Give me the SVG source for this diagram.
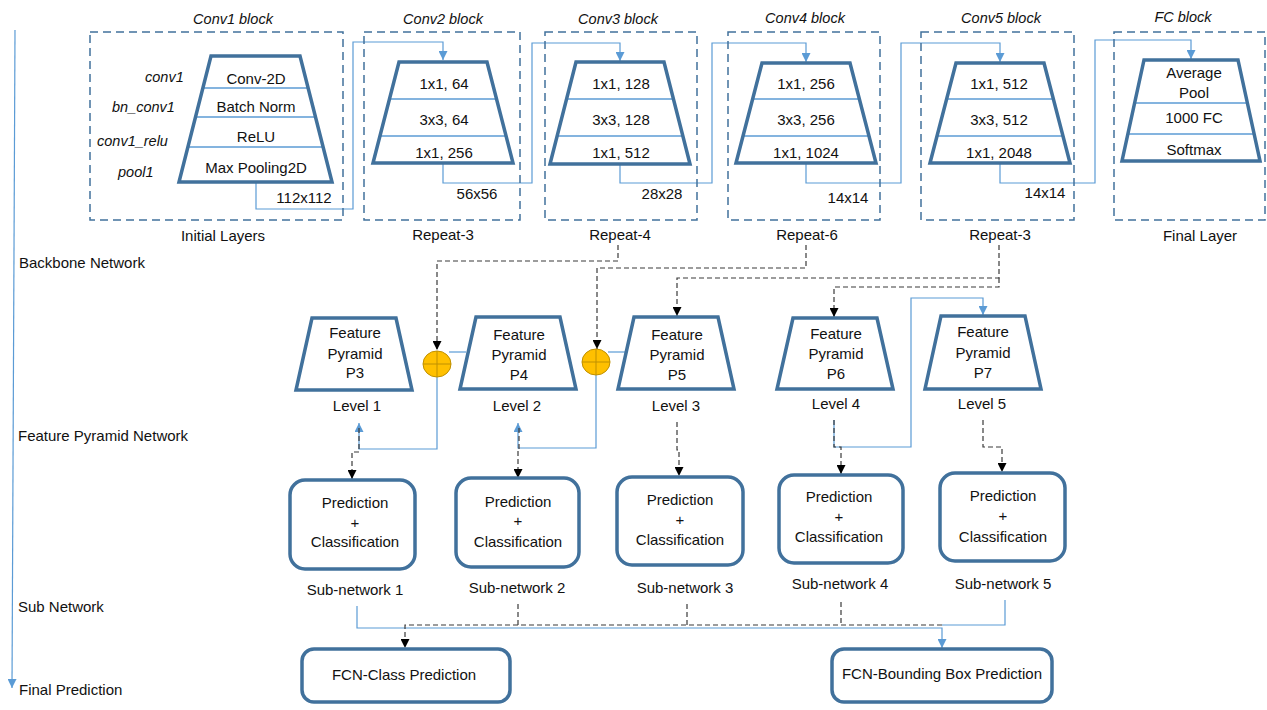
<svg xmlns="http://www.w3.org/2000/svg" width="1267" height="710" viewBox="0 0 1267 710">
<defs>
<marker id="ab" viewBox="0 0 10 10" refX="10" refY="5" markerWidth="9" markerHeight="9" markerUnits="userSpaceOnUse" orient="auto"><path d="M0,0 L10,5 L0,10 z" fill="#000"/></marker>
<marker id="al" viewBox="0 0 10 10" refX="10" refY="5" markerWidth="9" markerHeight="9" markerUnits="userSpaceOnUse" orient="auto"><path d="M0,0 L10,5 L0,10 z" fill="#5B9BD5"/></marker>
</defs>
<style>
text{font-family:"Liberation Sans",Arial,sans-serif;font-size:15px;fill:#111;text-anchor:middle}
.it{font-style:italic;font-size:14.5px}
.lt{text-anchor:start}
.blk{fill:none;stroke:#41719C;stroke-width:1.5;stroke-dasharray:8,5}
.trap{fill:none;stroke:#41719C;stroke-width:3.5;stroke-linejoin:miter}
.sep{stroke:#5B9BD5;stroke-width:1.5}
.box{fill:#fff;stroke:#41719C;stroke-width:3.5}
.lb{fill:none;stroke:#5B9BD5;stroke-width:1.2}
.dk{fill:none;stroke:#3a3a3a;stroke-width:1.2;stroke-dasharray:5,3}
.add{fill:#FFC000;stroke:#BF9000;stroke-width:1}
.cr{stroke:#BF9000;stroke-width:1}
</style>
<rect width="1267" height="710" fill="#fff"/>

<g id="axis">
<path class="lb" d="M15,30 L12,688" marker-end="url(#al)"/>
<text class="lt" x="19" y="268">Backbone Network</text>
<text class="lt" x="18" y="441">Feature Pyramid Network</text>
<text class="lt" x="18" y="612">Sub Network</text>
<text class="lt" x="19" y="695">Final Prediction</text>
</g>

<g id="connectors">
<path class="lb" d="M256,182 V209 H353 V42 H443 V60" marker-end="url(#al)"/>
<path class="lb" d="M443,163 V183 H532 V43 H620 V61" marker-end="url(#al)"/>
<path class="lb" d="M620,164 V183 H712 V43 H806 V62" marker-end="url(#al)"/>
<path class="lb" d="M806,163 V183 H901 V43 H1000 V62" marker-end="url(#al)"/>
<path class="lb" d="M1000,163 V183 H1095 V40 H1191 V59" marker-end="url(#al)"/>
<path class="dk" d="M618,245 V261 H437 V350" marker-end="url(#ab)"/>
<path class="dk" d="M806,245 V268 H597 V349" marker-end="url(#ab)"/>
<path class="dk" d="M999,245 V278 H677 V316" marker-end="url(#ab)"/>
<path class="dk" d="M999,278 V287 H834 V317" marker-end="url(#ab)"/>
<path class="lb" d="M449,352 H466"/>
<path class="lb" d="M608,352 H626"/>
<path class="lb" d="M437,377 V449 H359 V423" marker-end="url(#al)"/>
<path class="lb" d="M596,375 V448 H518 V423" marker-end="url(#al)"/>
<path class="lb" d="M834,420 V447 H911 V298 H983 V315" marker-end="url(#al)"/>
<path class="dk" d="M359,428 V452 H352 V479" marker-end="url(#ab)"/>
<path class="dk" d="M519,428 V450 H518 V478" marker-end="url(#ab)"/>
<path class="dk" d="M677,422 V450 H679 V476" marker-end="url(#ab)"/>
<path class="dk" d="M834,420 V447 H841 V474" marker-end="url(#ab)"/>
<path class="dk" d="M983,420 V447 H1002 V472" marker-end="url(#ab)"/>
<path class="lb" d="M357,606 V628 H942 V648" marker-end="url(#al)"/>
<path class="lb" d="M1005,600 V625 H942"/>
<path class="dk" d="M518,604 V625"/>
<path class="dk" d="M687,604 V625"/>
<path class="dk" d="M841,602 V625"/>
<path class="dk" d="M942,625 H405 V648" marker-end="url(#ab)"/>
</g>

<g id="conv1">
<text class="it" x="233" y="24">Conv1 block</text>
<rect class="blk" x="90" y="32" width="253" height="188"/>
<line class="sep" x1="202.9" y1="88" x2="308.1" y2="88"/>
<line class="sep" x1="195.5" y1="117" x2="315.5" y2="117"/>
<line class="sep" x1="187.9" y1="147" x2="323.1" y2="147"/>
<polygon class="trap" points="211,56 300,56 332,182 179,182"/>
<text x="256" y="84">Conv-2D</text>
<text x="256" y="112">Batch Norm</text>
<text x="256" y="142">ReLU</text>
<text x="256" y="173">Max Pooling2D</text>
<text class="it lt" x="145" y="82">conv1</text>
<text class="it lt" x="112" y="112">bn_conv1</text>
<text class="it lt" x="97" y="146">conv1_relu</text>
<text class="it lt" x="118" y="177">pool1</text>
<text x="304" y="203">112x112</text>
<text x="223" y="241">Initial Layers</text>
</g>

<g id="conv2">
<text class="it" x="443" y="24">Conv2 block</text>
<rect class="blk" x="364" y="32" width="156" height="188"/>
<line class="sep" x1="389.5" y1="99" x2="496.5" y2="99"/>
<line class="sep" x1="380" y1="136" x2="506" y2="136"/>
<polygon class="trap" points="399,62 487,62 513,163 373,163"/>
<text x="444" y="89">1x1, 64</text>
<text x="444" y="125">3x3, 64</text>
<text x="444" y="158">1x1, 256</text>
<text x="477" y="199">56x56</text>
<text x="443" y="240">Repeat-3</text>
</g>

<g id="conv3">
<text class="it" x="618" y="24">Conv3 block</text>
<rect class="blk" x="545" y="32" width="152" height="188"/>
<line class="sep" x1="566.5" y1="99" x2="673.5" y2="99"/>
<line class="sep" x1="557" y1="136" x2="683" y2="136"/>
<polygon class="trap" points="576,62 664,62 690,164 550,164"/>
<text x="621" y="89">1x1, 128</text>
<text x="621" y="125">3x3, 128</text>
<text x="621" y="158">1x1, 512</text>
<text x="662" y="199">28x28</text>
<text x="620" y="240">Repeat-4</text>
</g>

<g id="conv4">
<text class="it" x="805" y="23">Conv4 block</text>
<rect class="blk" x="728" y="32" width="152" height="188"/>
<line class="sep" x1="752.5" y1="99" x2="859.5" y2="99"/>
<line class="sep" x1="743" y1="136" x2="869" y2="136"/>
<polygon class="trap" points="762,63 850,63 876,163 736,163"/>
<text x="806" y="89">1x1, 256</text>
<text x="806" y="125">3x3, 256</text>
<text x="806" y="158">1x1, 1024</text>
<text x="848" y="203">14x14</text>
<text x="807" y="240">Repeat-6</text>
</g>

<g id="conv5">
<text class="it" x="1001" y="23">Conv5 block</text>
<rect class="blk" x="921" y="32" width="153" height="188"/>
<line class="sep" x1="946.5" y1="99" x2="1053.5" y2="99"/>
<line class="sep" x1="937" y1="136" x2="1063" y2="136"/>
<polygon class="trap" points="956,63 1044,63 1070,163 930,163"/>
<text x="999" y="89">1x1, 512</text>
<text x="999" y="125">3x3, 512</text>
<text x="999" y="158">1x1, 2048</text>
<text x="1045" y="198">14x14</text>
<text x="1000" y="240">Repeat-3</text>
</g>

<g id="fc">
<text class="it" x="1183" y="22">FC block</text>
<rect class="blk" x="1114" y="32" width="151" height="188"/>
<line class="sep" x1="1134.6" y1="103" x2="1247.4" y2="103"/>
<line class="sep" x1="1127.9" y1="134" x2="1254.1" y2="134"/>
<polygon class="trap" points="1144,60 1238,60 1260,161 1122,161"/>
<text x="1194" y="78">Average</text>
<text x="1194" y="98">Pool</text>
<text x="1194" y="123">1000 FC</text>
<text x="1194" y="155">Softmax</text>
<text x="1200" y="241">Final Layer</text>
</g>

<g id="p3">
<polygon class="trap" points="312,318 396,318 412,390 296,390"/>
<text x="355" y="338">Feature</text>
<text x="355" y="359">Pyramid</text>
<text x="355" y="378">P3</text>
<text x="357" y="411">Level 1</text>
</g>
<g id="add1">
<ellipse class="add" cx="437" cy="364" rx="14" ry="13"/>
<line class="cr" x1="423" y1="364" x2="451" y2="364"/>
<line class="cr" x1="437" y1="351" x2="437" y2="377"/>
</g>
<g id="p4">
<polygon class="trap" points="476,317 560,317 576,389 460,389"/>
<text x="519" y="340">Feature</text>
<text x="519" y="360">Pyramid</text>
<text x="519" y="380">P4</text>
<text x="517" y="411">Level 2</text>
</g>
<g id="add2">
<ellipse class="add" cx="596" cy="362" rx="14" ry="13"/>
<line class="cr" x1="582" y1="362" x2="610" y2="362"/>
<line class="cr" x1="596" y1="349" x2="596" y2="375"/>
</g>
<g id="p5">
<polygon class="trap" points="634,317 718,317 734,389 618,389"/>
<text x="677" y="340">Feature</text>
<text x="677" y="360">Pyramid</text>
<text x="677" y="380">P5</text>
<text x="676" y="411">Level 3</text>
</g>
<g id="p6">
<polygon class="trap" points="793,318 877,318 893,389 777,389"/>
<text x="836" y="339">Feature</text>
<text x="836" y="359">Pyramid</text>
<text x="836" y="379">P6</text>
<text x="836" y="409">Level 4</text>
</g>
<g id="p7">
<polygon class="trap" points="941,316 1025,316 1041,389 925,389"/>
<text x="983" y="337">Feature</text>
<text x="983" y="358">Pyramid</text>
<text x="983" y="378">P7</text>
<text x="982" y="409">Level 5</text>
</g>

<g id="sn1">
<rect class="box" x="290" y="480" width="125" height="89" rx="15"/>
<text x="355" y="508">Prediction</text>
<text x="355" y="528">+</text>
<text x="355" y="547">Classification</text>
<text x="355" y="595">Sub-network 1</text>
</g>
<g id="sn2">
<rect class="box" x="456" y="478" width="123" height="89" rx="15"/>
<text x="518" y="507">Prediction</text>
<text x="518" y="526">+</text>
<text x="518" y="547">Classification</text>
<text x="517" y="593">Sub-network 2</text>
</g>
<g id="sn3">
<rect class="box" x="617" y="477" width="126" height="88" rx="15"/>
<text x="680" y="505">Prediction</text>
<text x="680" y="525">+</text>
<text x="680" y="545">Classification</text>
<text x="685" y="593">Sub-network 3</text>
</g>
<g id="sn4">
<rect class="box" x="779" y="475" width="124" height="88" rx="15"/>
<text x="839" y="502">Prediction</text>
<text x="839" y="522">+</text>
<text x="839" y="542">Classification</text>
<text x="840" y="589">Sub-network 4</text>
</g>
<g id="sn5">
<rect class="box" x="940" y="473" width="125" height="88" rx="15"/>
<text x="1003" y="501">Prediction</text>
<text x="1003" y="521">+</text>
<text x="1003" y="542">Classification</text>
<text x="1003" y="589">Sub-network 5</text>
</g>

<g id="fcn-class">
<rect class="box" x="302" y="649" width="208" height="53" rx="12"/>
<text x="404" y="680">FCN-Class Prediction</text>
</g>
<g id="fcn-bbox">
<rect class="box" x="832" y="649" width="220" height="53" rx="12"/>
<text x="942" y="679">FCN-Bounding Box Prediction</text>
</g>
</svg>
